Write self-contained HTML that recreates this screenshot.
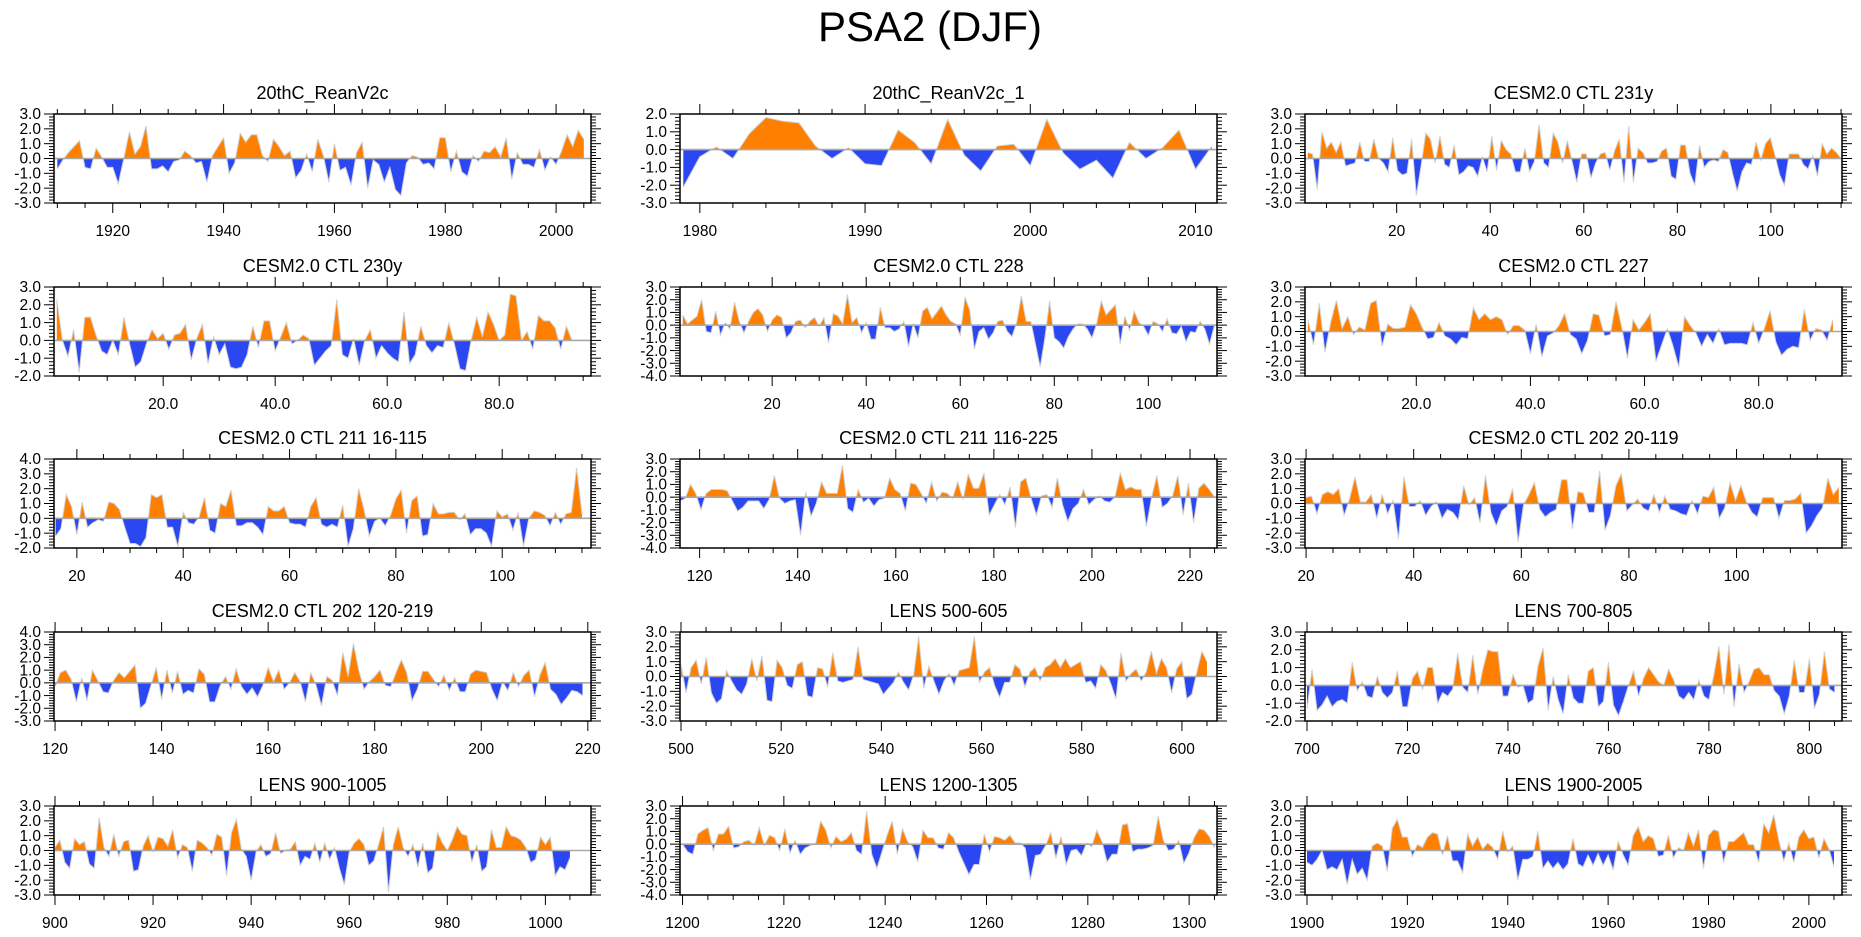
<!DOCTYPE html>
<html><head><meta charset="utf-8"><title>PSA2 (DJF)</title>
<style>
html,body{margin:0;padding:0;background:#fff;}
svg{display:block;font-family:"Liberation Sans",Arial,sans-serif;}
</style></head>
<body>
<svg id="chart" width="1861" height="937" viewBox="0 0 1861 937" xmlns="http://www.w3.org/2000/svg">
<rect x="0" y="0" width="1861" height="937" fill="#fff"/>
<text x="930" y="41" text-anchor="middle" font-size="42" fill="#000">PSA2 (DJF)</text>
</svg>
<script>
const panelTitles = ["20thC_ReanV2c","20thC_ReanV2c_1","CESM2.0 CTL 231y","CESM2.0 CTL 230y","CESM2.0 CTL 228","CESM2.0 CTL 227","CESM2.0 CTL 211 16-115","CESM2.0 CTL 211 116-225","CESM2.0 CTL 202 20-119","CESM2.0 CTL 202 120-219","LENS 500-605","LENS 700-805","LENS 900-1005","LENS 1200-1305","LENS 1900-2005"];
const dataStart = [1910,1979,1,1,1,1,16,116,20,120,500,700,900,1200,1900];
const dataEnd   = [2005,2011,115,93,114,93,115,225,119,219,605,805,1005,1305,2005];
const axisMin   = [1909.4,1978.8,0.4,0.5,0.4,0.5,15.7,116,19.8,119.8,499.8,699.6,899.8,1199.5,1899.6];
const axisMax   = [2006.3,2011.3,115.2,96.4,114.6,94.6,116.7,225.5,119.6,220.6,607,806.5,1009.3,1305.5,2006.6];
const yMin = [-3,-3,-3,-2,-4,-3,-2,-4,-3,-3,-3,-2,-3,-4,-3];
const yMax = [3,2,3,3,3,3,4,3,3,4,3,3,3,3,3];
const tickStart = [1920,1980,20,20,20,20,20,120,20,120,500,700,900,1200,1900];
const tickStep  = [20,10,20,20,20,20,20,20,20,20,20,20,20,20,20];
const minorStep = [5,2,5,5,5,5,5,5,5,5,5,5,5,5,5];
const labelDecimals = [0,0,0,1,0,1,0,0,0,0,0,0,0,0,0];

const v0 = [-0.7,-0.1,0.4,0.8,1.2,-0.6,-0.7,0.7,0.1,-0.6,-0.6,-1.7,0.0,1.8,0.3,0.8,2.2,-0.7,-0.7,-0.5,-0.9,-0.2,-0.1,0.5,0.2,-0.3,-0.2,-1.6,0.2,0.8,1.4,-1.0,-0.3,1.7,1.1,1.6,1.6,0.2,-0.2,1.3,0.8,0.2,0.5,-1.3,-0.8,0.3,-0.9,1.3,0.2,-1.6,1.0,-0.8,-0.6,-1.8,0.4,1.1,-2.0,-0.1,-0.4,-1.6,-0.6,-2.1,-2.5,-0.3,0.2,0.1,-0.4,-0.3,-0.7,1.4,1.4,-0.9,0.5,-0.9,-1.2,0.2,-0.2,0.5,0.4,0.8,0.1,1.4,-1.4,0.4,-0.4,-0.4,-0.6,0.6,-0.8,0.1,-0.4,0.5,1.6,0.8,1.9,1.3];
const v1 = [-2.1,-0.4,0.15,-0.5,0.9,1.8,1.6,1.5,0.2,-0.5,0.1,-0.8,-0.9,1.1,0.4,-0.8,1.7,-0.3,-1.2,0.2,0.3,-0.9,1.7,-0.2,-1.1,-0.6,-1.6,0.4,-0.5,0.1,1.1,-1.1,0.2];
const v2 = [0.4,0.3,-2.1,1.8,0.7,1.1,0.4,1.1,-0.5,-0.4,-0.3,1.1,-0.2,-0.2,1.3,0.0,-0.3,-0.9,1.4,-0.8,-1.1,-1.0,1.3,-2.5,-0.5,1.7,1.3,-0.3,1.5,-0.4,-0.6,0.9,-1.1,-0.9,-0.5,-0.6,-1.2,0.1,-0.9,1.5,-0.8,1.2,0.6,0.3,-0.9,-0.9,0.7,-0.9,-0.2,2.3,-0.3,-0.6,1.7,1.1,-0.3,1.2,-0.2,-1.6,0.3,0.3,-1.3,-0.3,0.3,0.4,-0.8,0.5,1.3,-1.6,2.2,-1.6,0.7,0.4,-0.3,-0.3,-0.2,0.5,0.7,-1.2,-1.4,0.9,0.9,-1.0,-1.8,0.9,-0.6,-0.2,-0.1,-0.2,0.6,0.4,-1.0,-2.2,-0.9,-0.3,-0.4,1.1,-0.1,1.0,1.4,0.2,-1.1,-1.8,0.3,0.3,0.3,-0.4,-0.7,0.2,-1.2,1.0,0.3,0.7,0.4,0.0];
const v3 = [2.3,0.0,-0.9,0.6,-1.8,1.3,1.3,0.3,-0.6,-0.8,0.0,-0.8,1.3,-0.2,-1.5,-1.2,-0.2,0.6,0.1,0.4,-0.5,0.3,0.4,0.9,-1.1,0.1,0.9,-1.3,0.2,-0.8,-0.2,-1.5,-1.6,-1.5,-0.8,0.8,-0.4,1.1,1.1,-0.6,0.2,1.0,-0.2,0.0,0.3,0.1,-1.4,-1.0,-0.6,-0.3,2.3,-0.8,-1.0,0.1,-1.4,0.0,0.6,-1.0,-0.3,-0.7,-1.0,-1.2,1.6,-1.3,-0.8,0.8,-0.3,-0.7,-0.3,-0.4,1.0,-0.2,-1.6,-1.7,0.0,1.3,0.2,1.6,0.9,0.0,0.3,2.6,2.5,0.0,0.5,-0.5,1.4,1.1,1.1,0.7,-0.5,0.8,0.0];
const v4 = [0.8,0.1,0.4,0.7,2.0,-0.5,-0.6,1.1,-0.8,0.2,-0.3,1.8,0.3,-0.6,0.3,1.0,1.3,0.8,-0.5,0.4,0.8,0.6,-1.0,-0.6,0.3,0.4,-0.2,0.3,0.6,-0.1,0.6,-1.4,0.9,0.7,0.1,2.4,0.2,0.6,-0.6,0.2,-1.1,-1.1,1.4,-0.2,-0.2,-0.5,-0.3,0.3,-1.7,0.1,-1.0,1.1,1.4,0.5,1.0,1.5,0.8,0.3,0.1,-0.8,2.2,1.2,-1.9,-0.5,-0.2,-1.1,-0.6,0.3,0.4,-0.5,-0.9,0.2,2.3,0.3,0.3,-1.5,-3.3,-1.0,1.9,-1.0,-1.3,-1.8,-0.9,-0.3,0.1,0.1,-0.3,-1.0,0.1,1.9,0.8,1.2,1.6,-1.5,0.7,-0.4,1.1,0.2,-0.1,-0.8,0.3,0.1,-0.5,0.5,-0.6,-0.7,-0.1,-1.3,-0.5,-0.6,0.3,-0.3,-1.5,-0.1];
const v5 = [0.8,-0.9,1.9,-1.4,0.6,2.1,0.2,1.0,-0.2,0.3,0.1,1.9,2.1,-1.0,0.5,0.2,0.2,0.3,1.8,1.2,0.3,-0.5,-0.4,0.6,-0.3,-0.5,-0.9,-0.4,-0.5,1.6,0.8,1.2,0.8,1.0,0.8,-0.2,0.4,0.4,0.1,-1.5,0.5,-1.7,-0.3,-0.1,0.4,1.2,-0.2,-0.5,-1.5,-0.6,1.2,1.1,-0.3,-0.2,2.0,0.3,-1.8,0.8,0.1,0.6,1.2,-2.0,-0.9,0.2,-1.0,-2.4,1.0,0.4,-0.1,-1.0,-0.2,-0.8,0.2,-0.9,-0.8,-0.8,-0.8,-0.9,0.6,-0.8,0.2,1.4,-0.7,-1.6,-1.2,-1.0,-1.1,1.5,-0.6,0.2,0.1,-0.6,0.8];
const v6 = [-1.2,-0.7,1.6,0.8,-1.1,1.1,-0.6,-0.3,-0.1,-0.2,1.1,1.0,0.6,-0.6,-1.7,-1.7,-1.9,-1.3,1.6,1.4,1.6,-0.6,-0.6,-1.9,0.4,-0.3,-0.4,0.1,1.4,-0.8,-1.0,1.0,0.8,1.9,-0.5,-0.5,-0.3,-0.3,-0.6,-1.1,0.8,0.5,0.5,0.8,-0.3,-0.4,-0.4,-0.6,0.8,1.4,-0.4,-0.6,-0.4,-0.6,0.9,-1.9,-0.7,2.0,0.6,-1.2,-0.2,0.0,-0.5,0.2,1.3,1.9,-1.0,1.2,1.5,-1.2,-1.1,1.0,0.3,0.3,0.4,0.4,-0.1,0.3,-1.1,-0.7,-0.7,-1.0,-1.9,0.5,0.1,0.3,-0.8,0.4,-1.9,0.0,0.5,0.4,0.2,-0.5,0.4,-0.4,0.3,0.4,3.4,0.3];
const v7 = [-0.3,-0.1,1.0,0.3,-1.0,0.3,0.6,0.6,0.6,0.5,-0.3,-1.1,-0.8,-0.3,-0.3,-0.3,-0.9,-0.2,1.7,-0.1,-0.5,-0.3,-0.2,-3.0,0.4,-1.5,-0.5,1.2,0.3,0.3,0.3,2.5,-0.9,-1.2,0.6,-0.4,-0.1,-0.7,-0.2,-0.1,1.5,0.6,0.3,-1.1,1.1,1.0,0.3,-0.5,1.2,-0.3,0.4,0.3,-0.1,1.2,-0.2,1.8,0.7,0.7,1.9,-1.4,-0.6,0.2,-0.6,0.8,-2.4,1.2,1.5,-0.1,-1.4,0.1,0.2,-0.8,1.5,-0.6,-1.9,-0.9,-0.5,0.6,-0.6,-0.2,0.1,-0.3,-0.4,0.0,1.9,0.6,0.8,0.6,0.6,-2.3,0.0,1.7,-0.8,-0.5,0.1,1.7,-1.4,1.1,-2.0,0.7,1.1,0.6,0.0];
const v8 = [0.4,0.5,-0.7,0.6,0.8,0.6,1.0,-0.8,0.3,1.8,0.1,0.1,0.6,-1.0,0.6,-0.7,0.2,-2.4,1.8,-0.2,-0.2,0.2,-0.8,-0.2,0.1,-1.0,-0.4,-0.6,-1.1,1.2,-0.1,0.4,-1.3,1.9,-0.6,-1.5,-0.5,-0.2,1.0,-2.6,-0.1,0.6,1.4,-0.4,-0.9,-0.6,-0.4,1.6,1.6,-1.7,0.8,0.7,-0.6,-0.6,2.2,-1.8,-0.8,1.2,2.0,-0.5,-0.1,0.3,-0.3,-0.5,0.6,-0.6,0.5,-0.4,-0.5,-0.7,-0.8,0.2,-0.7,0.5,0.4,1.1,-1.0,-0.3,1.4,0.2,1.2,0.1,-0.6,-0.9,0.4,0.4,0.4,-1.0,0.2,0.2,0.3,0.7,-2.0,-1.5,-0.8,-0.3,1.7,0.6,1.1];
const v9 = [-0.3,0.8,1.0,0.3,-1.5,0.4,-1.4,1.0,0.2,-0.7,-0.8,0.2,0.8,0.4,0.9,1.4,-2.0,-1.6,-0.2,1.2,-1.3,1.0,-0.8,0.9,-0.9,-0.6,-0.8,1.1,0.7,-1.5,-1.5,-0.2,0.5,-0.5,1.1,-0.3,-0.9,-0.4,-1.1,-0.2,1.2,0.1,1.0,-0.5,0.0,0.8,0.1,-1.5,0.8,-0.2,-1.8,0.5,0.2,-1.0,2.4,0.5,3.1,1.0,-0.5,0.1,0.5,1.0,-0.2,-0.3,0.8,1.8,0.8,-1.4,-0.5,0.9,0.9,0.3,-0.3,0.6,-0.6,0.4,-0.7,-0.7,0.7,1.0,0.9,0.8,-0.5,-1.4,0.1,-0.6,0.8,-0.3,0.6,1.0,-1.1,0.6,1.6,-0.5,-0.9,-1.7,-1.2,-0.6,-0.7,-1.0];
const v10 = [0.8,-1.1,0.6,1.1,-0.5,1.3,-1.1,-1.8,-1.5,0.4,-0.3,-0.9,-1.2,-0.5,1.2,-0.3,1.4,-1.6,-1.7,1.1,0.6,-0.6,-0.8,0.8,1.0,-1.3,-1.4,0.6,0.5,-0.7,1.6,-0.3,-0.4,-0.3,-0.2,2.0,-0.2,-0.3,-0.4,-0.5,-1.2,-0.8,-0.4,0.3,-0.4,-0.9,0.1,2.7,-0.8,0.7,-0.3,-1.2,-0.3,0.2,-0.6,0.4,0.5,0.6,2.7,-0.4,0.3,0.6,-0.6,-1.4,-0.4,-0.4,0.8,0.5,-0.7,0.3,0.6,-0.3,0.6,0.8,1.2,0.6,1.2,0.6,0.8,1.0,-0.4,-0.3,-0.8,0.8,0.4,-0.5,-1.5,1.6,-0.3,0.2,0.5,-0.3,0.3,1.7,0.2,1.2,0.6,-1.1,0.5,1.0,-1.5,-1.2,0.3,1.7,1.0];
const v11 = [-1.3,0.9,-1.4,-1.1,-0.6,-1.2,-0.9,-0.8,-1.0,1.3,-0.3,0.2,-0.6,-0.7,0.5,-0.4,-0.7,-0.4,0.8,-1.2,-1.2,0.4,0.8,-0.2,1.0,1.0,-1.0,-0.4,-0.6,-0.2,1.8,-0.1,-0.4,1.7,-0.5,0.9,2.0,1.9,1.9,-0.6,-0.6,0.6,-0.1,0.0,-1.0,-0.8,1.1,2.1,-1.4,0.5,-0.8,-1.6,0.6,-0.7,-1.0,-1.0,0.8,1.0,-1.2,-0.9,1.3,-1.1,-1.7,-0.9,0.0,0.8,-0.6,0.4,1.0,0.6,0.2,0.0,0.9,0.3,-0.6,-0.8,-0.4,-0.8,0.3,-0.6,-0.8,0.6,2.2,-0.5,2.3,-1.2,1.2,-0.4,0.2,0.9,1.0,0.6,0.6,-0.3,-0.6,-1.6,-0.6,1.4,-0.4,-0.4,1.5,-1.3,-0.5,1.9,-0.2,-0.4];
const v12 = [0.2,0.7,-0.8,-1.2,0.8,0.4,0.6,-0.9,-1.2,2.2,0.2,-0.4,1.1,-0.4,0.6,0.7,-1.4,-1.3,0.3,1.0,-0.1,0.9,0.8,0.3,1.4,-0.5,0.4,0.2,-1.4,0.7,0.5,0.2,-0.3,1.1,0.9,-1.7,1.2,2.1,0.1,-0.4,-2.0,-0.1,0.4,-0.4,-0.2,1.2,-0.2,0.0,0.1,0.6,-1.0,-0.4,-0.6,0.5,-0.8,0.5,-0.6,0.2,-1.2,-2.3,-0.1,0.5,0.8,0.4,-1.0,-0.7,0.4,1.6,-2.8,0.4,1.6,0.2,-0.4,0.4,-1.1,0.5,-1.5,-1.2,1.2,0.5,0.0,0.7,1.6,1.1,1.0,-0.8,0.4,-1.4,-1.1,1.4,0.2,0.2,1.6,1.0,0.9,0.7,0.2,-0.8,-0.6,0.9,0.4,0.9,-1.7,-1.1,-1.3,-0.5];
const v13 = [0.0,-0.6,-0.8,0.8,1.1,1.3,-0.5,0.8,0.8,1.4,-0.3,-0.2,0.2,0.3,-0.1,1.3,-0.1,0.7,0.5,-0.5,1.2,-0.7,0.3,-0.8,-0.3,-0.1,0.0,1.8,1.1,-0.3,0.6,0.2,0.4,0.9,-0.5,-0.8,2.6,-0.8,-1.9,-0.6,0.7,1.8,-0.8,1.2,0.2,-0.2,-1.4,1.1,0.5,0.5,-0.3,-0.4,0.9,0.5,-0.6,-1.5,-2.4,-1.6,-1.6,0.8,-0.6,0.6,0.5,0.3,0.7,0.1,0.1,-0.3,-2.8,-0.9,-0.8,-0.1,0.9,-1.1,0.6,-1.6,-0.5,-0.4,-0.9,0.1,-0.2,1.1,0.2,-1.4,-0.8,-0.8,1.5,1.6,-0.6,-0.4,-0.4,-0.3,-0.1,2.2,0.3,-0.5,-0.4,0.3,-1.5,-0.7,0.5,1.2,1.1,0.6,-0.3];
const v14 = [-0.8,-1.0,-0.6,0.0,-1.3,-1.1,-1.3,-0.6,-2.3,-0.6,-1.6,-1.2,-2.0,0.3,0.5,0.3,-1.4,1.5,2.1,0.9,0.9,-0.4,0.4,0.2,0.9,1.2,1.1,-0.3,1.0,-0.7,-0.7,-1.5,1.1,0.3,0.9,0.1,0.5,0.2,-0.6,1.3,-0.1,0.3,-2.0,-0.6,-0.6,-0.4,1.3,-1.2,-0.7,-1.2,-0.8,-1.3,-0.9,0.8,-0.9,-1.1,-0.3,-1.0,-0.2,-1.0,-0.3,-1.3,0.6,-0.3,-1.0,1.0,1.6,0.6,1.0,0.8,-0.4,-0.3,1.0,-0.5,0.2,0.0,1.2,0.3,1.4,-1.2,1.0,1.4,1.3,-0.8,0.6,0.6,0.9,1.2,0.4,0.4,-0.8,1.8,1.2,2.4,0.7,-0.7,0.5,-0.8,0.9,1.4,0.8,0.9,-0.5,0.8,0.1,-1.1];
const seriesValues = [v0,v1,v2,v3,v4,v5,v6,v7,v8,v9,v10,v11,v12,v13,v14];

const NS = "http://www.w3.org/2000/svg";
const svg = document.getElementById("chart");
const colX = [54, 680, 1305];
const rowY = [114, 287, 459, 632, 806];
const PW = 537, PH = 89;

function mk(tag, attrs, parent) {
  const e = document.createElementNS(NS, tag);
  for (const k in attrs) e.setAttribute(k, attrs[k]);
  (parent || svg).appendChild(e);
  return e;
}

function drawPanel(i) {
  const X = colX[i % 3], Y = rowY[Math.floor(i / 3)];
  const a0 = axisMin[i], a1 = axisMax[i], y0 = yMin[i], y1 = yMax[i];
  const sx = v => X + (v - a0) / (a1 - a0) * PW;
  const sy = v => Y + (y1 - v) / (y1 - y0) * PH;
  const g = mk("g", {});
  
  

  const clipA = mk("clipPath", {id: "ca" + i}, g);
  mk("rect", {x: X, y: Y, width: PW, height: sy(0) - Y}, clipA);
  const clipB = mk("clipPath", {id: "cb" + i}, g);
  mk("rect", {x: X, y: sy(0), width: PW, height: Y + PH - sy(0)}, clipB);

  const vals = seriesValues[i];
  const n = vals.length;
  const step = (dataEnd[i] - dataStart[i]) / (n - 1);
  let line = "";
  vals.forEach((v, k) => {
    const px = sx(dataStart[i] + k * step), py = sy(v);
    line += (k ? " L" : "M") + px.toFixed(2) + "," + py.toFixed(2);
  });
  const area = "M" + sx(dataStart[i]).toFixed(2) + "," + sy(0).toFixed(2) + " " + line.replace(/^M/, "L") + " L" + sx(dataEnd[i]).toFixed(2) + "," + sy(0).toFixed(2) + " Z";

  const pos = mk("path", {d: area, fill: "#FF8000", "clip-path": "url(#ca" + i + ")"}, g);
  
  
  const neg = mk("path", {d: area, fill: "#2B47F2", "clip-path": "url(#cb" + i + ")"}, g);
  
  
  const ln = mk("path", {d: line, fill: "none", stroke: "#d0d0d0", "stroke-width": 1}, g);
  
  
  const zl = mk("line", {x1: X, x2: X + PW, y1: sy(0), y2: sy(0), stroke: "#a8a8a8", "stroke-width": 1.6}, g);
  
  

  const fr = mk("rect", {x: X, y: Y, width: PW, height: PH, fill: "none", stroke: "#000", "stroke-width": 1.5}, g);
  
  

  const yt = mk("g", {stroke: "#000", "stroke-width": 1}, g);
  
  
  for (let t = Math.round(y0 * 5); t <= Math.round(y1 * 5); t++) {
    const v = t / 5, py = sy(v), major = (t % 5 === 0);
    const L = major ? 10 : 5;
    mk("line", {x1: X - L, x2: X, y1: py, y2: py}, yt);
    mk("line", {x1: X + PW, x2: X + PW + L, y1: py, y2: py}, yt);
    if (major) {
      const lb = mk("text", {x: X - 13, y: py + 5.2, "text-anchor": "end", "font-size": 15.5, fill: "#000", stroke: "none"}, g);
      lb.textContent = v.toFixed(1);
      
      
    }
  }
  const xt = mk("g", {stroke: "#000", "stroke-width": 1}, g);
  
  
  const ms = minorStep[i];
  for (let v = Math.ceil(a0 / ms) * ms; v <= a1 + 1e-6; v += ms) {
    const px = sx(v);
    const major = Math.abs(((v - tickStart[i]) / tickStep[i]) - Math.round((v - tickStart[i]) / tickStep[i])) < 1e-6;
    const L = major ? 10 : 5;
    mk("line", {x1: px, x2: px, y1: Y - L, y2: Y}, xt);
    mk("line", {x1: px, x2: px, y1: Y + PH, y2: Y + PH + L}, xt);
    if (major) {
      const lb = mk("text", {x: px, y: Y + PH + 33, "text-anchor": "middle", "font-size": 15.5, fill: "#000", stroke: "none"}, g);
      lb.textContent = v.toFixed(labelDecimals[i]);
      
      
    }
  }
  const tt = mk("text", {x: X + PW / 2, y: Y - 15, "text-anchor": "middle", "font-size": 18, fill: "#000"}, g);
  tt.textContent = panelTitles[i];
  
  
}
for (let i = 0; i < 15; i++) drawPanel(i);
</script>
</body></html>
